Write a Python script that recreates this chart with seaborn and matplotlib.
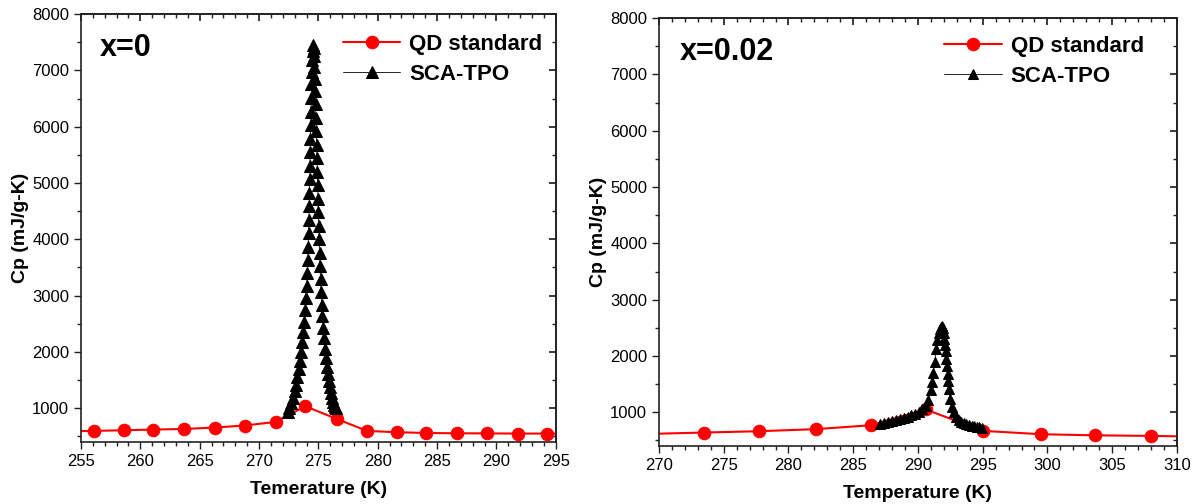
import matplotlib
matplotlib.use("Agg")
import matplotlib.pyplot as plt
from matplotlib.ticker import MultipleLocator
import seaborn as sns

# ---- x=0 panel ----
qd0_t = [253.5, 256.1, 258.6, 261.1, 263.7, 266.3, 268.8, 271.4, 273.9,
         276.6, 279.1, 281.6, 284.1, 286.7, 289.2, 291.8, 294.3, 296.9]
qd0_cp = [590, 597, 609, 621, 632, 657, 693, 757, 1035,
          805, 597, 574, 560, 555, 553, 550, 550, 548]

sca0_t = [272.40, 272.55, 272.70, 272.85, 273.00, 273.12, 273.24, 273.35,
          273.46, 273.56, 273.65, 273.74, 273.82, 273.89, 273.95, 274.01,
          274.06, 274.10, 274.14, 274.17, 274.20, 274.23, 274.25, 274.27,
          274.29, 274.31, 274.33, 274.35, 274.37, 274.40, 274.42, 274.45,
          274.48, 274.51, 274.54,
          274.60, 274.64, 274.67, 274.70, 274.73, 274.76, 274.79, 274.82,
          274.85, 274.88, 274.91, 274.94, 274.97, 275.00, 275.03, 275.06,
          275.10, 275.14, 275.18, 275.23, 275.28, 275.34, 275.40, 275.47,
          275.54, 275.62, 275.70, 275.78, 275.86, 275.95, 276.04, 276.13,
          276.22, 276.31, 276.40, 276.48]
sca0_cp = [930, 1000, 1090, 1190, 1300, 1420, 1550, 1690,
           1840, 2000, 2170, 2350, 2540, 2740, 2950, 3170,
           3400, 3630, 3870, 4110, 4350, 4590, 4830, 5070,
           5310, 5550, 5790, 6030, 6270, 6510, 6750, 6980,
           7180, 7340, 7450,
           7400, 7250, 7060, 6850, 6630, 6400, 6160, 5920,
           5680, 5440, 5200, 4960, 4720, 4480, 4240, 4000,
           3760, 3520, 3290, 3060, 2840, 2630, 2430, 2240,
           2060, 1890, 1740, 1600, 1480, 1370, 1270, 1180,
           1110, 1060, 1020, 1000]

# ---- x=0.02 panel ----
qd2_t = [269.2, 273.5, 277.7, 282.1, 286.4, 290.6, 295.0, 299.5, 303.7, 308.0, 312.3]
qd2_cp = [615, 640, 663, 700, 770, 1050, 670, 610, 590, 580, 565]

sca2_t = [287.1, 287.4, 287.7, 288.0, 288.3, 288.6, 288.9, 289.2, 289.5,
          289.8, 290.1, 290.35, 290.6, 290.8, 291.0, 291.1, 291.2, 291.3,
          291.4, 291.5, 291.6, 291.7, 291.8, 291.85,
          291.95, 292.0, 292.05, 292.1, 292.15, 292.2, 292.25, 292.3,
          292.35, 292.4, 292.5, 292.6, 292.75, 292.95, 293.15, 293.35,
          293.55, 293.75, 293.95, 294.15, 294.35, 294.55, 294.75, 294.95]
sca2_cp = [800, 815, 830, 845, 860, 880, 900, 920, 945,
           975, 1010, 1050, 1110, 1220, 1400, 1530, 1700, 1900,
           2120, 2280, 2410, 2480, 2520, 2530,
           2490, 2400, 2300, 2200, 2080, 1950, 1820, 1680,
           1550, 1420, 1230, 1100, 1000, 920, 870, 835,
           810, 790, 775, 762, 750, 740, 730, 722]

panels = [
    dict(qd_t=qd0_t, qd_cp=qd0_cp, sca_t=sca0_t, sca_cp=sca0_cp,
         xlim=(255, 295), tag="x=0", xlabel="Temerature (K)", tri=8,
         rect=[0.0677, 0.123, 0.397, 0.849], leg_anchor=(1.0, 0.985)),
    dict(qd_t=qd2_t, qd_cp=qd2_cp, sca_t=sca2_t, sca_cp=sca2_cp,
         xlim=(270, 310), tag="x=0.02", xlabel="Temperature (K)", tri=6.5,
         rect=[0.551, 0.115, 0.433, 0.849], leg_anchor=(0.962, 0.99)),
]

sns.set_theme(style="ticks")
plt.rcParams["font.family"] = ["Liberation Sans", "DejaVu Sans"]

fig = plt.figure(figsize=(11.96, 5.04), dpi=100)

for p in panels:
    ax = fig.add_axes(p["rect"])
    sns.lineplot(x=p["qd_t"], y=p["qd_cp"], ax=ax, color="#ff0000", lw=1.5,
                 marker="o", markersize=9, markeredgecolor="#ff0000",
                 label="QD standard", sort=False, zorder=2)
    sns.lineplot(x=p["sca_t"], y=p["sca_cp"], ax=ax, color="black", lw=0.6,
                 marker="^", markersize=p["tri"], markeredgecolor="black",
                 label="SCA-TPO", sort=False, zorder=3)

    ax.set_xlim(*p["xlim"])
    ax.set_ylim(400, 8000)
    ax.xaxis.set_major_locator(MultipleLocator(5))
    ax.xaxis.set_minor_locator(MultipleLocator(1))
    ax.yaxis.set_minor_locator(MultipleLocator(500))
    ax.set_yticks(range(1000, 8001, 1000))

    for s in ax.spines.values():
        s.set_linewidth(1.2)
        s.set_color("#222222")
    ax.tick_params(which="both", direction="out", top=False, right=False,
                   labelsize=12, width=1.0, color="#222222", labelcolor="black")
    ax.tick_params(which="major", length=5)
    ax.tick_params(which="minor", length=3)
    sec = ax.secondary_xaxis("top")
    sec.xaxis.set_major_locator(MultipleLocator(5))
    sec.xaxis.set_minor_locator(MultipleLocator(1))
    sec.tick_params(which="both", direction="in", labeltop=False, color="#222222")
    sec.tick_params(which="major", length=5)
    sec.tick_params(which="minor", length=3)
    secy = ax.secondary_yaxis("right")
    secy.yaxis.set_major_locator(MultipleLocator(1000))
    secy.yaxis.set_minor_locator(MultipleLocator(500))
    secy.tick_params(which="both", direction="in", labelright=False, color="#222222")
    secy.tick_params(which="major", length=5)
    secy.tick_params(which="minor", length=3)

    ax.set_xlabel(p["xlabel"], fontsize=14, fontweight="bold", labelpad=9,
                  color="black")
    ax.set_ylabel("Cp (mJ/g-K)", fontsize=14, fontweight="bold", labelpad=2,
                  color="black")
    ax.text(0.04, 0.92, p["tag"], transform=ax.transAxes, fontsize=22,
            fontweight="bold", va="center", ha="left", color="black")

    leg = ax.legend(loc="upper right", bbox_to_anchor=p["leg_anchor"],
                    frameon=False, fontsize=16, handlelength=2.6,
                    borderaxespad=0.2, labelspacing=0.4, handletextpad=0.4)
    for t in leg.get_texts():
        t.set_fontweight("bold")
        t.set_color("black")

fig.savefig("out.png", dpi=100)
